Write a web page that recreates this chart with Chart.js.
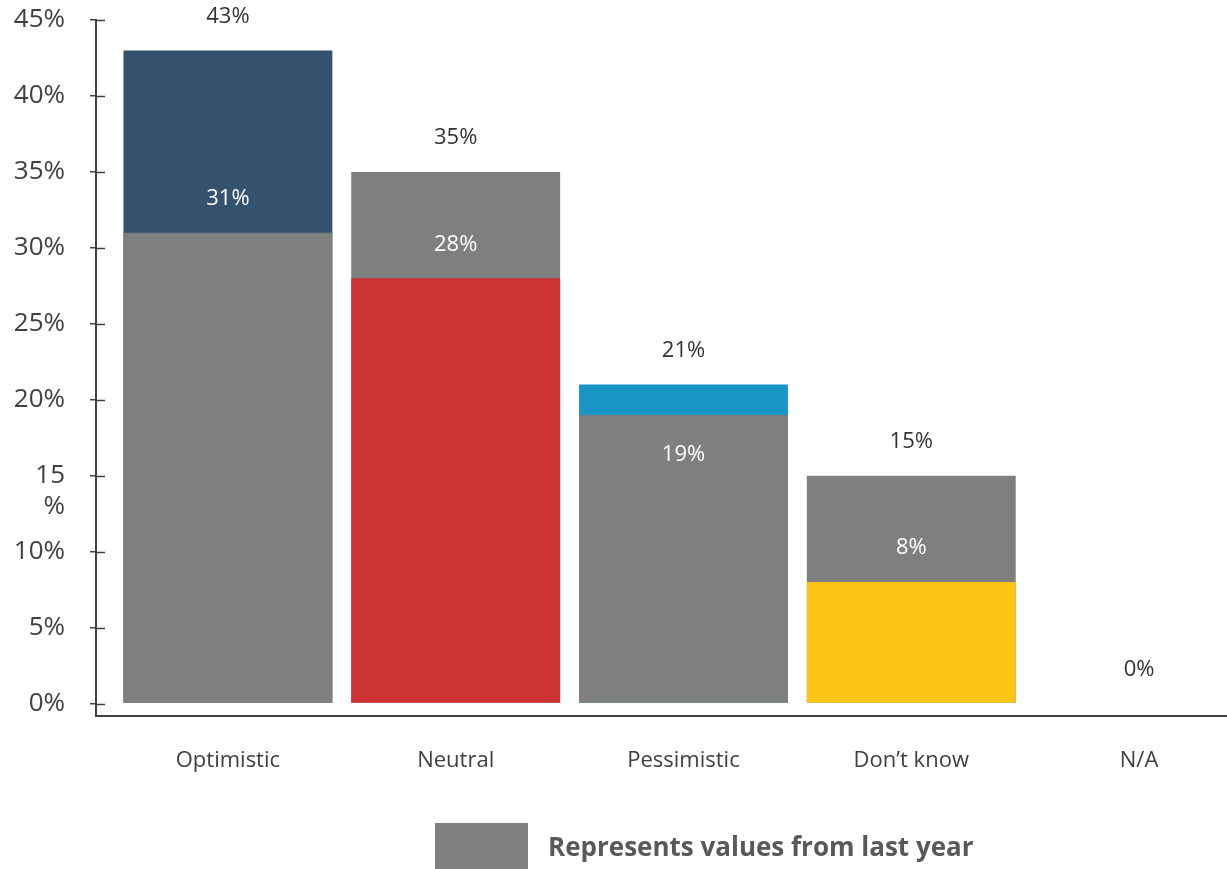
<!DOCTYPE html>
<html>
<head>
<meta charset="utf-8">
<script src="https://cdn.jsdelivr.net/npm/chart.js@4/dist/chart.umd.min.js"></script>
<style>
  html, body { margin: 0; padding: 0; background: #fff; }
  #wrap { position: relative; width: 1227px; height: 869px; overflow: hidden; }
  #legend {
    position: absolute; left: 435px; top: 823px;
    display: flex; align-items: center;
    font-family: 'Open Sans', sans-serif; font-weight: 700; font-size: 26px; color: #595959;
  }
  #legend .swatch { width: 93px; height: 46px; background: #7f7f7f; margin-right: 20px; }
</style>
</head>
<body>
<div id="wrap">
  <canvas id="outlookChart" width="1227" height="869"></canvas>
  <div id="legend"><span class="swatch"></span><span>Represents values from last year</span></div>
</div>
<script>
let categories = ['Optimistic', 'Neutral', 'Pessimistic', 'Don\u2019t know', 'N/A'];
let thisYear = [43, 28, 21, 8, 0];
let lastYear = [31, 35, 19, 15, 0];
let barColors = ['#34526e', '#cd3333', '#1996c5', '#fec514', '#7f7f7f'];
let lastYearColor = '#7f7f7f';
let tickValues = [0, 5, 10, 15, 20, 25, 30, 35, 40, 45];
let tickLabels = ['0%', '5%', '10%', ['', '15', '%'], '20%', '25%', '30%', '35%', '40%', '45%'];

// smaller bar in front, taller one behind it
let front = categories.map((c, i) => Math.min(thisYear[i], lastYear[i]));
let back = categories.map((c, i) => Math.max(thisYear[i], lastYear[i]));
let frontColors = categories.map((c, i) => thisYear[i] < lastYear[i] ? barColors[i] : lastYearColor);
let backColors = categories.map((c, i) => thisYear[i] >= lastYear[i] ? barColors[i] : lastYearColor);

Chart.defaults.font.family = "'Open Sans', sans-serif";
Chart.defaults.color = '#404040';

const axisColor = '#404040';

const valueLabels = {
    id: 'valueLabels',
    afterDatasetsDraw(chart) {
        const ctx = chart.ctx;
        const y = chart.scales.y;
        const bars = chart.getDatasetMeta(1).data;
        ctx.save();
        ctx.font = "22px 'Open Sans'";
        ctx.textAlign = 'center';
        ctx.textBaseline = 'middle';
        categories.forEach((c, i) => {
            const x = bars[i].x;
            const hiPx = y.getPixelForValue(back[i]);
            ctx.fillStyle = '#333333';
            ctx.fillText(back[i] + '%', x, hiPx - 34);
            if (front[i] > 0) {
                const loPx = y.getPixelForValue(front[i]);
                ctx.fillStyle = '#ffffff';
                ctx.fillText(front[i] + '%', x, loPx - hiPx > 50 ? loPx - 34 : loPx + 40);
            }
        });
        ctx.restore();
    },
    afterDraw(chart) {
        // tick marks cross the y axis line
        const ctx = chart.ctx;
        const y = chart.scales.y;
        const left = chart.chartArea.left;
        ctx.save();
        ctx.strokeStyle = axisColor;
        ctx.lineWidth = 1.5;
        tickValues.forEach(v => {
            const py = Math.round(y.getPixelForValue(v)) + 0.5;
            ctx.beginPath();
            ctx.moveTo(left, py);
            ctx.lineTo(left + 9, py);
            ctx.stroke();
        });
        ctx.restore();
    }
};

let outlookChart = new Chart(document.querySelector('#outlookChart'), {
    type: 'bar',
    data: {
        datasets: [{
            label: 'Front',
            data: front.map((v, i) => ({x: i, y: v})),
            backgroundColor: frontColors,
            grouped: false,
            barPercentage: 0.917,
            categoryPercentage: 1
        }, {
            label: 'Back',
            data: back.map((v, i) => ({x: i, y: v})),
            backgroundColor: backColors,
            grouped: false,
            barPercentage: 0.917,
            categoryPercentage: 1
        }]
    },
    options: {
        responsive: false,
        animation: false,
        layout: {padding: {top: 0, left: 14, right: 0, bottom: 63}},
        plugins: {legend: {display: false}, tooltip: {enabled: false}},
        scales: {
            x: {
                type: 'linear',
                offset: false,
                min: -0.579,
                max: 4.386,
                afterBuildTicks: scale => { scale.ticks = categories.map((c, i) => ({value: i})); },
                ticks: {
                    callback: v => categories[v],
                    font: {size: 22},
                    color: '#404040',
                    padding: 32,
                    maxRotation: 0,
                    autoSkip: false
                },
                grid: {display: false, drawTicks: false},
                border: {display: true, color: axisColor, width: 2}
            },
            y: {
                min: -0.79,
                max: 45,
                afterBuildTicks: scale => { scale.ticks = tickValues.map(v => ({value: v})); },
                afterFit: scale => {
                    scale.width = 82;
                    scale.paddingTop = 20;
                    scale.paddingBottom = 0;
                },
                ticks: {
                    callback: (v, i) => tickLabels[i],
                    font: {size: 26},
                    color: '#404040',
                    padding: 25,
                    autoSkip: false
                },
                grid: {display: true, drawOnChartArea: false, tickLength: 6, color: axisColor, lineWidth: 1.5},
                border: {display: true, color: axisColor, width: 2}
            }
        }
    },
    plugins: [valueLabels]
});
</script>
</body>
</html>
